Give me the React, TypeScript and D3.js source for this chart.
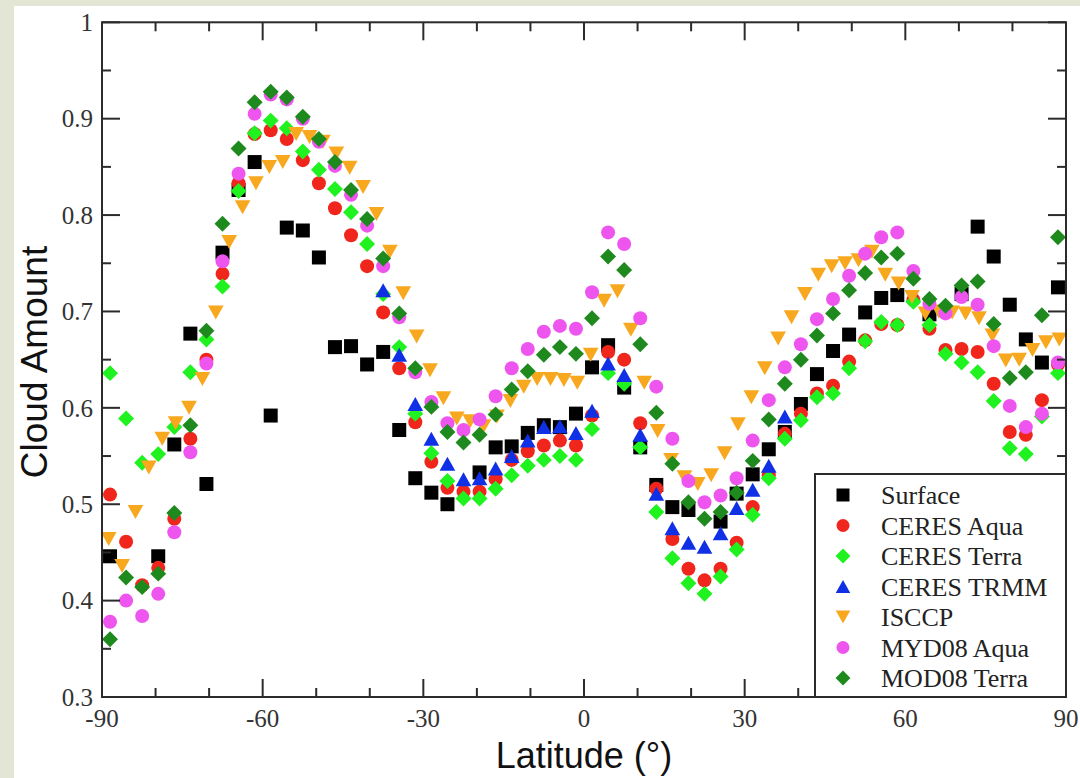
import React from 'react';
import * as d3 from 'd3';

// ---------- data ----------
const LAT3 = [-88.5, -85.5, -82.5, -79.5, -76.5, -73.5, -70.5, -67.5, -64.5, -61.5,
  -58.5, -55.5, -52.5, -49.5, -46.5, -43.5, -40.5, -37.5, -34.5, -31.5,
  -28.5, -25.5, -22.5, -19.5, -16.5, -13.5, -10.5, -7.5, -4.5, -1.5,
  1.5, 4.5, 7.5, 10.5, 13.5, 16.5, 19.5, 22.5, 25.5, 28.5,
  31.5, 34.5, 37.5, 40.5, 43.5, 46.5, 49.5, 52.5, 55.5, 58.5,
  61.5, 64.5, 67.5, 70.5, 73.5, 76.5, 79.5, 82.5, 85.5, 88.5];

const LAT25 = [-88.75, -86.25, -83.75, -81.25, -78.75, -76.25, -73.75, -71.25, -68.75, -66.25,
  -63.75, -61.25, -58.75, -56.25, -53.75, -51.25, -48.75, -46.25, -43.75, -41.25,
  -38.75, -36.25, -33.75, -31.25, -28.75, -26.25, -23.75, -21.25, -18.75, -16.25,
  -13.75, -11.25, -8.75, -6.25, -3.75, -1.25, 1.25, 3.75, 6.25, 8.75,
  11.25, 13.75, 16.25, 18.75, 21.25, 23.75, 26.25, 28.75, 31.25, 33.75,
  36.25, 38.75, 41.25, 43.75, 46.25, 48.75, 51.25, 53.75, 56.25, 58.75,
  61.25, 63.75, 66.25, 68.75, 71.25, 73.75, 76.25, 78.75, 81.25, 83.75,
  86.25, 88.75];

const SURFACE = [0.446, null, null, 0.446, 0.562, 0.677, 0.521, 0.761, 0.826, 0.855,
  0.592, 0.787, 0.784, 0.756, 0.663, 0.664, 0.645, 0.658, 0.577, 0.527,
  0.512, 0.500, null, 0.533, 0.559, 0.560, 0.574, 0.582, 0.580, 0.594,
  0.642, 0.665, 0.621, 0.559, 0.520, 0.497, 0.494, null, 0.482, 0.511,
  0.531, 0.557, 0.575, 0.604, 0.635, 0.659, 0.676, 0.699, 0.714, 0.717,
  null, 0.697, null, 0.718, 0.788, 0.757, 0.707, 0.671, 0.647, 0.725];

const CERES_AQUA = [0.510, 0.461, 0.416, 0.434, 0.485, 0.568, 0.650, 0.739, 0.833, 0.884,
  0.888, 0.879, 0.857, 0.833, 0.807, 0.779, 0.747, 0.699, 0.641, 0.585,
  0.544, 0.517, 0.513, 0.513, 0.526, 0.546, 0.555, 0.561, 0.566, 0.561,
  0.592, 0.658, 0.650, 0.584, 0.516, 0.464, 0.433, 0.421, 0.433, 0.460,
  0.497, 0.530, 0.573, 0.594, 0.615, 0.623, 0.648, 0.670, 0.687, 0.686,
  0.712, 0.682, 0.660, 0.661, 0.658, 0.625, 0.575, 0.572, 0.608, 0.645];

const CERES_TERRA = [0.636, 0.589, 0.543, 0.552, 0.580, 0.637, 0.671, 0.726, 0.825, 0.885,
  0.898, 0.890, 0.866, 0.847, 0.827, 0.803, 0.770, 0.718, 0.663, 0.594,
  0.553, 0.524, 0.506, 0.506, 0.516, 0.530, 0.540, 0.546, 0.550, 0.546,
  0.578, 0.636, 0.625, 0.559, 0.492, 0.444, 0.418, 0.407, 0.425, 0.453,
  0.489, 0.527, 0.568, 0.587, 0.611, 0.615, 0.641, 0.669, 0.689, 0.686,
  0.710, 0.686, 0.656, 0.647, 0.637, 0.607, 0.558, 0.552, 0.591, 0.636];

const CERES_TRMM = [null, null, null, null, null, null, null, null, null, null,
  null, null, null, null, null, null, null, 0.722, 0.655, 0.604,
  0.568, 0.542, 0.526, 0.527, 0.537, 0.550, 0.566, 0.580, 0.581, 0.574,
  0.597, 0.646, 0.634, 0.572, 0.511, 0.475, 0.460, 0.456, 0.470, 0.496,
  0.515, 0.540, 0.591, null, null, null, null, null, null, null,
  null, null, null, null, null, null, null, null, null, null];

const ISCCP = [0.464, 0.436, 0.492, 0.538, 0.568, 0.584, 0.600, 0.630, 0.699, 0.772,
  0.808, 0.833, 0.850, 0.855, 0.884, 0.881, 0.876, 0.864, 0.849, 0.829,
  0.801, 0.762, 0.719, 0.674, 0.639, 0.610, 0.589, 0.586, 0.581, 0.591,
  0.607, 0.622, 0.630, 0.630, 0.629, 0.626, 0.655, 0.711, 0.721, 0.681,
  0.626, 0.576, 0.546, 0.528, 0.521, 0.530, 0.553, 0.583, 0.611, 0.641,
  0.672, 0.694, 0.718, 0.738, 0.747, 0.750, 0.753, 0.762, 0.738, 0.729,
  0.715, 0.698, 0.700, 0.699, 0.698, 0.693, 0.675, 0.649, 0.650, 0.660,
  0.668, 0.671];

const MYD08_AQUA = [0.378, 0.400, 0.384, 0.407, 0.471, 0.554, 0.646, 0.752, 0.843, 0.905,
  0.925, 0.920, 0.900, 0.876, 0.851, 0.821, 0.789, 0.747, 0.694, 0.637,
  0.606, 0.584, 0.577, 0.588, 0.612, 0.641, 0.661, 0.679, 0.685, 0.682,
  0.720, 0.782, 0.770, 0.693, 0.622, 0.568, 0.524, 0.502, 0.509, 0.527,
  0.566, 0.608, 0.642, 0.666, 0.692, 0.713, 0.737, 0.760, 0.777, 0.782,
  0.742, 0.708, 0.698, 0.715, 0.707, 0.664, 0.602, 0.580, 0.594, 0.647];

const MOD08_TERRA = [0.360, 0.424, 0.414, 0.428, 0.491, 0.582, 0.680, 0.791, 0.869, 0.917,
  0.928, 0.922, 0.902, 0.879, 0.855, 0.826, 0.796, 0.755, 0.698, 0.641,
  0.601, 0.575, 0.564, 0.572, 0.593, 0.619, 0.638, 0.655, 0.663, 0.656,
  0.693, 0.757, 0.743, 0.666, 0.595, 0.542, 0.502, 0.485, 0.492, 0.512,
  0.545, 0.588, 0.625, 0.650, 0.675, 0.698, 0.722, 0.740, 0.756, 0.760,
  0.734, 0.713, 0.706, 0.727, 0.731, 0.687, 0.631, 0.637, 0.696, 0.777];

const SERIES_NAMES = ['Surface', 'CERES Aqua', 'CERES Terra', 'CERES TRMM', 'ISCCP', 'MYD08 Aqua', 'MOD08 Terra'];

const X_MAJOR = [-90, -60, -30, 0, 30, 60, 90];
const X_MINOR = [-80, -70, -50, -40, -20, -10, 10, 20, 40, 50, 70, 80];
const Y_MAJOR = [0.3, 0.4, 0.5, 0.6, 0.7, 0.8, 0.9, 1.0];
const Y_LABELS = ['0.3', '0.4', '0.5', '0.6', '0.7', '0.8', '0.9', '1'];
const Y_MINOR = [0.35, 0.45, 0.55, 0.65, 0.75, 0.85, 0.95];

// ---------- layout / style ----------
const W = 1080;
const H = 778;
const PL = 102, PR = 1066, PT = 22.3, PB = 697;

const x = d3.scaleLinear().domain([-90, 90]).range([PL, PR]);
const y = d3.scaleLinear().domain([0.3, 1]).range([PB, PT]);

type Shape = 'square' | 'circle' | 'diamond' | 'up' | 'down';

const SERIES: { name: string; lats: number[]; vals: (number | null)[]; shape: Shape; color: string }[] = [
  { name: SERIES_NAMES[0], lats: LAT3, vals: SURFACE, shape: 'square', color: '#000000' },
  { name: SERIES_NAMES[1], lats: LAT3, vals: CERES_AQUA, shape: 'circle', color: '#f0261c' },
  { name: SERIES_NAMES[2], lats: LAT3, vals: CERES_TERRA, shape: 'diamond', color: '#1ff21f' },
  { name: SERIES_NAMES[3], lats: LAT3, vals: CERES_TRMM, shape: 'up', color: '#1030e6' },
  { name: SERIES_NAMES[4], lats: LAT25, vals: ISCCP, shape: 'down', color: '#f8a81e' },
  { name: SERIES_NAMES[5], lats: LAT3, vals: MYD08_AQUA, shape: 'circle', color: '#ee55ee' },
  { name: SERIES_NAMES[6], lats: LAT3, vals: MOD08_TERRA, shape: 'diamond', color: '#1e8a1e' },
];

function markerPath(shape: Shape, s: number): string {
  const p = d3.path();
  if (shape === 'square') {
    p.rect(-s / 2, -s / 2, s, s);
  } else if (shape === 'circle') {
    p.moveTo(s / 2, 0);
    p.arc(0, 0, s / 2, 0, Math.PI * 2);
  } else if (shape === 'diamond') {
    const h = s * 0.57;
    p.moveTo(0, -h); p.lineTo(h, 0); p.lineTo(0, h); p.lineTo(-h, 0);
  } else if (shape === 'up') {
    const hw = s * 0.56, hh = s * 0.5;
    p.moveTo(0, -hh); p.lineTo(hw, hh); p.lineTo(-hw, hh);
  } else {
    const hw = s * 0.56, hh = s * 0.5;
    p.moveTo(0, hh); p.lineTo(hw, -hh); p.lineTo(-hw, -hh);
  }
  p.closePath();
  return p.toString();
}

const SERIF = "'Liberation Serif', 'Times New Roman', serif";
const SANS = "'Liberation Sans', Arial, Helvetica, sans-serif";
const AXIS = '#2b2b2b';

export default function App() {
  const MS = 14;
  const legendX = 815, legendY = 474, legendW = PR - 815, legendH = PB - 474;
  const legendRow = d3.scaleLinear().domain([0, 6]).range([495, 678]);
  return (
    <svg width={W} height={H} style={{ position: 'absolute', left: 0, top: 0 }}>
      <rect x={0} y={0} width={W} height={H} fill="#e3e5d5" />
      <rect x={14} y={6} width={W - 14} height={H - 6} fill="#ffffff" />

      {SERIES.map((s) => (
        <g key={s.name} fill={s.color}>
          {s.vals.map((v, i) =>
            v === null ? null : (
              <path key={i} d={markerPath(s.shape, MS)} transform={`translate(${x(s.lats[i])},${y(v)})`} />
            )
          )}
        </g>
      ))}

      {/* frame */}
      <rect x={PL} y={PT} width={PR - PL} height={PB - PT} fill="none" stroke={AXIS} strokeWidth={2} />

      {/* x ticks */}
      {X_MAJOR.map((t) => (
        <g key={'xm' + t} stroke={AXIS} strokeWidth={2}>
          <line x1={x(t)} x2={x(t)} y1={PB} y2={PB - 18} />
          <line x1={x(t)} x2={x(t)} y1={PT} y2={PT + 18} />
        </g>
      ))}
      {X_MINOR.map((t) => (
        <g key={'xn' + t} stroke={AXIS} strokeWidth={2}>
          <line x1={x(t)} x2={x(t)} y1={PB} y2={PB - 9} />
          <line x1={x(t)} x2={x(t)} y1={PT} y2={PT + 9} />
        </g>
      ))}
      {Y_MAJOR.map((t) => (
        <g key={'ym' + t} stroke={AXIS} strokeWidth={2}>
          <line x1={PL} x2={PL + 18} y1={y(t)} y2={y(t)} />
          <line x1={PR} x2={PR - 18} y1={y(t)} y2={y(t)} />
        </g>
      ))}
      {Y_MINOR.map((t) => (
        <g key={'yn' + t} stroke={AXIS} strokeWidth={2}>
          <line x1={PL} x2={PL + 9} y1={y(t)} y2={y(t)} />
          <line x1={PR} x2={PR - 9} y1={y(t)} y2={y(t)} />
        </g>
      ))}

      {/* tick labels */}
      {X_MAJOR.map((t) => (
        <text key={'xl' + t} x={x(t)} y={727} textAnchor="middle" fontFamily={SERIF} fontSize={25} fill="#333">
          {String(t)}
        </text>
      ))}
      {Y_MAJOR.map((t, i) => (
        <text key={'yl' + t} x={93} y={y(t)} dy="0.35em" textAnchor="end" fontFamily={SERIF} fontSize={25} fill="#333">
          {Y_LABELS[i]}
        </text>
      ))}

      {/* axis titles */}
      <text x={584} y={768} textAnchor="middle" fontFamily={SANS} fontSize={36} fill="#111">
        Latitude (°)
      </text>
      <text transform="translate(47,362) rotate(-90)" textAnchor="middle" fontFamily={SANS} fontSize={37} fill="#111">
        Cloud Amount
      </text>

      {/* legend */}
      <rect x={legendX} y={legendY} width={legendW} height={legendH} fill="#fff" stroke={AXIS} strokeWidth={2} />
      {SERIES.map((s, i) => (
        <g key={'lg' + s.name}>
          <path d={markerPath(s.shape, 13)} fill={s.color} transform={`translate(843,${legendRow(i)})`} />
          <text x={881} y={legendRow(i)} dy="0.35em" fontFamily={SERIF} fontSize={26} fill="#222">
            {s.name}
          </text>
        </g>
      ))}
    </svg>
  );
}
